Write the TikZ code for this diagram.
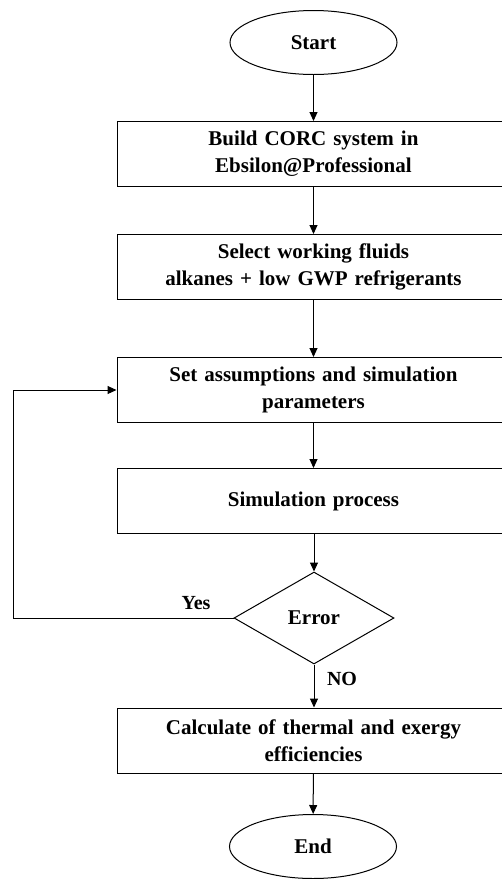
\documentclass[tikz,border=0pt]{standalone}
\usepackage{fontspec}
\setmainfont{Liberation Serif}
\usetikzlibrary{shapes.geometric,arrows.meta}
\begin{document}
\begin{tikzpicture}[x=1pt,y=-1pt,
  line width=1pt,
  every node/.style={font=\fontsize{21}{27}\selectfont\bfseries},
  procbox/.style={draw, rectangle, minimum width=393pt, minimum height=65pt, text width=380pt, align=center, inner sep=0pt},
  term/.style={draw, ellipse, minimum width=167pt, minimum height=64pt, inner sep=0pt},
  decision/.style={draw, diamond, minimum width=160pt, minimum height=92pt, inner sep=0pt},
  arr/.style={-{Triangle[length=9pt,width=8pt]}},
  lbl/.style={font=\fontsize{20}{24}\selectfont\bfseries}]
\useasboundingbox (0,0) rectangle (502,879);
\clip (0,0) rectangle (502,879);

\node[term] (start) at (313.5,42.5) {Start};
\node[procbox] (b1) at (313.5,154) {Build CORC system in\\Ebsilon@Professional};
\node[procbox] (b2) at (313.5,267) {Select working fluids\\alkanes + low GWP refrigerants};
\node[procbox] (b3) at (313.5,390) {Set assumptions and simulation\\parameters};
\node[procbox] (b4) at (313.5,501) {Simulation process};
\node[decision] (err) at (314,618) {Error};
\node[procbox] (b5) at (313.5,740.5) {Calculate of thermal and exergy\\efficiencies};
\node[term] (end) at (313,846.5) {End};

\coordinate (lp) at (13,618);

\draw[arr] (start) -- (b1);
\draw[arr] (b1) -- (b2);
\draw[arr] (b2) -- (b3);
\draw[arr] (b3) -- (b4);
\draw[arr] (b4.south -| err.north) -- (err.north);
\draw[arr] (err.south) -- (b5.north -| err.south);
\draw[arr] (b5) -- (end);
\draw[arr] (err.west) -- (lp) |- (b3.west);

\node[lbl] (yes) at (196,603) {Yes};
\node[lbl] (no) at (342,679) {NO};
\end{tikzpicture}
\end{document}
